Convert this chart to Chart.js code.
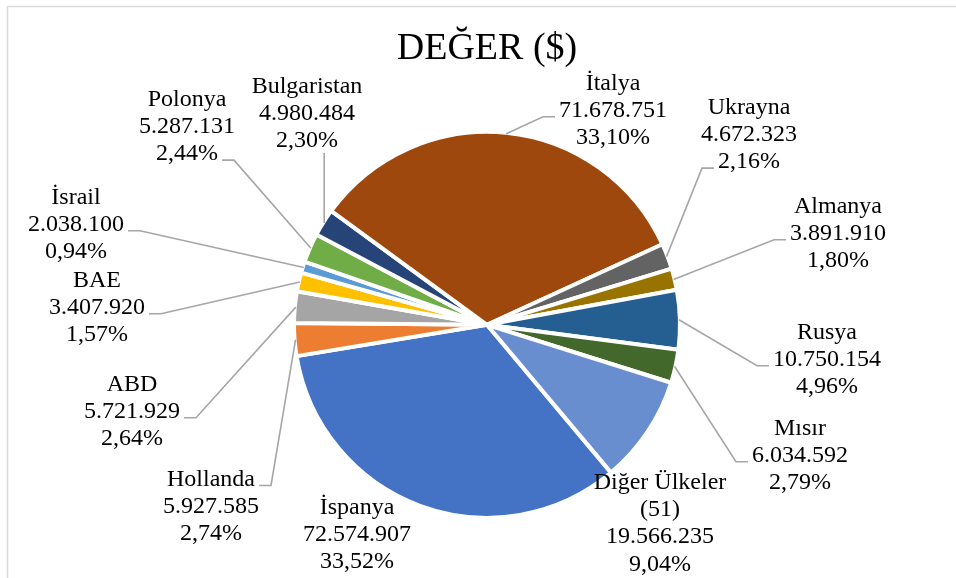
<!DOCTYPE html>
<html lang="tr">
<head>
<meta charset="utf-8">
<title>DEĞER ($)</title>
<script src="https://cdn.jsdelivr.net/npm/chart.js@4.4.1/dist/chart.umd.min.js"></script>
<style>
  html, body { margin: 0; padding: 0; background: #fff; }
  #wrap { width: 956px; height: 578px; }
</style>
</head>
<body>
<div id="wrap"><canvas id="myChart" width="956" height="578"></canvas></div>
<script>
// data, in the order the slices run clockwise from İspanya
const countries = ["İspanya", "Hollanda", "ABD", "BAE", "İsrail", "Polonya", "Bulgaristan", "İtalya", "Ukrayna", "Almanya", "Rusya", "Mısır", "Diğer Ülkeler\n(51)"];
const values = [72574907, 5927585, 5721929, 3407920, 2038100, 5287131, 4980484, 71678751, 4672323, 3891910, 10750154, 6034592, 19566235];
const colors = ["#4472C4", "#ED7D31", "#A5A5A5", "#FFC000", "#5B9BD5", "#70AD47", "#264478", "#9E480E", "#636363", "#997300", "#255E91", "#43682B", "#698ED0"];

// label block centre, relative to the pie centre
const labelOffsets = [
  [-130, 216], [-276, 188], [-355, 93], [-390, -11], [-411, -94], [-300, -192], [-180, -205],
  [126, -208], [262, -184], [351, -85], [340, 41], [313, 137], [173, 205]
];
// where the leader line meets the label (which side, which text line)
const leaderJoin = [
  null, { side: "right", line: 0 }, { side: "right", line: 1 }, { side: "right", line: 1 },
  { side: "right", line: 1 }, { side: "right", line: 2 }, { side: "bottom" },
  { side: "left", line: 1 }, { side: "left", line: 2 }, { side: "left", line: 1 },
  { side: "left", line: 1 }, { side: "left", line: 1 }, null
];

const serif = "'Liberation Serif', 'Times New Roman', serif";
const lineH = 27.3;

const total = values.reduce((a, b) => a + b, 0);
const fmt = (n) => String(n).replace(/\B(?=(\d{3})+(?!\d))/g, ".");
const pct = (v) => (v / total * 100).toFixed(2).replace(".", ",") + "%";

const pieLabels = {
  id: "pieLabels",
  beforeDraw(chart) {
    // chart frame (left and top edges only are inside the picture)
    const ctx = chart.ctx;
    ctx.save();
    ctx.strokeStyle = "#d9d9d9";
    ctx.lineWidth = 1.5;
    ctx.beginPath();
    ctx.moveTo(7.5, chart.height);
    ctx.lineTo(7.5, 6.5);
    ctx.lineTo(chart.width, 6.5);
    ctx.stroke();
    ctx.restore();
  },
  afterDatasetsDraw(chart) {
    const ctx = chart.ctx;
    const arcs = chart.getDatasetMeta(0).data;
    ctx.save();
    ctx.font = "24px " + serif;
    ctx.fillStyle = "#000";
    ctx.textAlign = "center";
    ctx.textBaseline = "alphabetic";
    ctx.strokeStyle = "#a6a6a6";
    ctx.lineWidth = 1.6;
    arcs.forEach((arc, i) => {
      const { x, y, startAngle, endAngle, outerRadius } = arc.getProps(["x", "y", "startAngle", "endAngle", "outerRadius"], true);
      const mid = (startAngle + endAngle) / 2;
      const lines = countries[i].split("\n").concat([fmt(values[i]), pct(values[i])]);
      const cx = x + labelOffsets[i][0];
      const cy = y + labelOffsets[i][1];
      const base0 = cy - (lines.length - 1) / 2 * lineH;
      lines.forEach((t, k) => ctx.fillText(t, cx, base0 + k * lineH));

      const join = leaderJoin[i];
      if (!join) return;
      const ax = x + Math.cos(mid) * (outerRadius - 1);
      const ay = y + Math.sin(mid) * (outerRadius - 1);
      ctx.beginPath();
      if (join.side === "bottom") {
        ctx.moveTo(ax, base0 + (lines.length - 1) * lineH + 6);
        ctx.lineTo(ax, ay);
      } else {
        const ly = base0 + join.line * lineH;
        const w = ctx.measureText(lines[join.line]).width;
        const dir = join.side === "right" ? 1 : -1;
        const ex = cx + dir * (w / 2 + 4);
        ctx.moveTo(ex, ly);
        ctx.lineTo(ex + dir * 12, ly);
        ctx.lineTo(ax, ay);
      }
      ctx.stroke();
    });
    ctx.restore();
  }
};

const myChart = document.getElementById("myChart");

let valueChart = new Chart(myChart, {
  type: "pie",
  data: {
    labels: countries,
    datasets: [
      {
        data: values,
        backgroundColor: colors,
        borderColor: "#ffffff",
        borderWidth: 4,
      },
    ],
  },
  options: {
    responsive: false,
    animation: false,
    events: [],
    rotation: 140,
    radius: 193,
    layout: {
      padding: { left: 18, right: 0, top: 0, bottom: 0 },
    },
    plugins: {
      legend: { display: false },
      tooltip: { enabled: false },
      title: {
        display: true,
        text: "DEĞER ($)",
        color: "#000",
        font: { family: serif, size: 38, weight: "normal" },
        padding: { top: 26, bottom: 0 },
      },
    },
  },
  plugins: [pieLabels],
});
</script>
</body>
</html>
